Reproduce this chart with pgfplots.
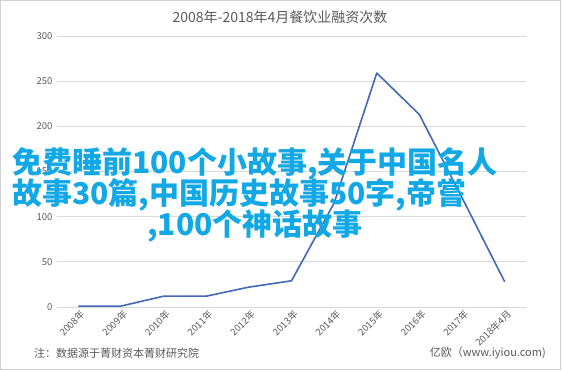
\documentclass[border=0pt]{standalone}
\usepackage{pgfplots}
\pgfplotsset{compat=1.18}
\usepackage{fontspec}
\setmainfont{Noto Sans CJK SC}
\definecolor{txtgray}{HTML}{595959}
\definecolor{gridgray}{HTML}{D9D9D9}
\definecolor{framegray}{HTML}{D0D0D0}
\definecolor{lineblue}{HTML}{4169B5}
\definecolor{cyanover}{HTML}{12A8E6}
\begin{document}
\begin{tikzpicture}
\path[use as bounding box] (0pt,0pt) rectangle (563pt,-370pt);
\draw[framegray, line width=1.4pt] (0.7pt,-0.7pt) rectangle (560.5pt,-369.3pt);
\node[txtgray, font=\fontsize{14}{16}\selectfont, inner sep=0] at (280pt,-17pt) {2008年-2018年4月餐饮业融资次数};
\begin{axis}[
  at={(57pt,-307pt)}, anchor=south west,
  scale only axis, width=469pt, height=271pt,
  xmin=-0.5, xmax=10.5, ymin=0, ymax=300,
  axis line style={draw=none},
  ytick={0,50,...,300},
  ymajorgrids, grid style={gridgray, line width=0.8pt},
  major tick length=0pt,
  xtick={0,...,10},
  xticklabels={2008年,2009年,2010年,2011年,2012年,2013年,2014年,2015年,2016年,2017年,2018年4月},
  x tick label style={rotate=45, anchor=north east, xshift=3pt, yshift=1pt},
  tick label style={font=\fontsize{9.5}{10}\selectfont, text=txtgray},
  yticklabel style={xshift=-1pt},
  /pgf/number format/assume math mode=true,
  clip=false,
]
\addplot[lineblue, line width=1.6pt, mark=none, line join=round] coordinates {(0,1)(1,1)(2,12)(3,12)(4,22)(5,29)(6,115)(7,259)(8,213)(9,121)(10,28)};
\end{axis}
\node[txtgray, font=\fontsize{11}{12}\selectfont, anchor=west, inner sep=0] at (34pt,-353pt) {注：数据源于菁财资本菁财研究院};
\node[txtgray, font=\fontsize{11}{12}\selectfont, anchor=east, inner sep=0] at (546pt,-353pt) {亿欧（www.iyiou.com)};
\node[cyanover, font=\fontsize{30}{30}\selectfont\bfseries, anchor=west, inner sep=0] at (12pt,-164pt) {免费睡前100个小故事,关于中国名人};
\node[cyanover, font=\fontsize{30}{30}\selectfont\bfseries, anchor=west, inner sep=0] at (12pt,-195pt) {故事30篇,中国历史故事50字,帝嘗};
\node[cyanover, font=\fontsize{30}{30}\selectfont\bfseries, anchor=west, inner sep=0] at (147pt,-226pt) {,100个神话故事};
\end{tikzpicture}
\end{document}
